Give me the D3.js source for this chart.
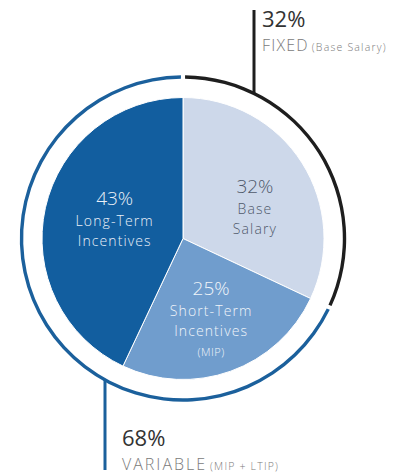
<!DOCTYPE html>
<html>
<head>
<meta charset="utf-8">
<script src="https://cdn.jsdelivr.net/npm/d3@7"></script>
<style>
  body { margin: 0; background: #fff; }
  svg { display: block; font-family: "Open Sans", "Noto Sans", sans-serif; }
</style>
</head>
<body>
<script>
// Pay mix data
var segments = ["Base Salary", "Short-Term Incentives", "Long-Term Incentives"];
var shares = [32, 25, 43];
var segmentLines = [["Base", "Salary"], ["Short-Term", "Incentives", "(MIP)"], ["Long-Term", "Incentives"]];

// Fixed vs variable groups (ring around the pie)
var groups = ["FIXED", "VARIABLE"];
var groupShares = [32, 68];
var groupNotes = ["(Base Salary)", "(MIP + LTIP)"];

var width = 404, height = 476;
var cx = 183, cy = 238.5, radius = 141, ringRadius = 161.5;

var fills = ["#cdd8ea", "#709dcd", "#125e9f"];
var textColors = ["#4f586a", "#f1f5fa", "#eaf0f8"];
var ringColors = ["#1e1e1e", "#1b609c"];
var labelRadius = [84, 86, 70];
var labelShift = [[1, -1], [-1, -24], [0, -18]];

var svg = d3.select("body").append("svg")
    .attr("width", width)
    .attr("height", height);

var g = svg.append("g")
    .attr("transform", "translate(" + cx + "," + cy + ")");

var pie = d3.pie().sort(null).value(function(d) { return d; });
var arc = d3.arc().innerRadius(0).outerRadius(radius);

var slices = pie(shares);

// Pie slices
g.selectAll(".slice")
    .data(slices)
    .enter().append("path")
    .attr("class", "slice")
    .attr("d", arc)
    .attr("fill", function(d, i) { return fills[i]; })
    .attr("stroke", "#fff")
    .attr("stroke-width", 1);

// Ring arcs for fixed / variable
var ringArc = d3.arc()
    .innerRadius(ringRadius - 1.7)
    .outerRadius(ringRadius + 1.7)
    .padAngle(0.018);

var ringSlices = pie(groupShares);

g.selectAll(".ring")
    .data(ringSlices)
    .enter().append("path")
    .attr("class", "ring")
    .attr("d", ringArc)
    .attr("fill", function(d, i) { return ringColors[i]; });

// Labels inside slices, one text per line
slices.forEach(function(d, i) {
    var c = d3.arc().innerRadius(labelRadius[i]).outerRadius(labelRadius[i]).centroid(d);
    var lines = segmentLines[i];
    var x = c[0] + labelShift[i][0];
    var y0 = c[1] + labelShift[i][1];
    g.append("text")
        .attr("x", x)
        .attr("y", y0)
        .attr("text-anchor", "middle")
        .attr("fill", textColors[i])
        .style("font-size", "19px")
        .style("font-weight", 300)
        .text(shares[i] + "%");
    lines.forEach(function(line, j) {
        var small = line.charAt(0) === "(";
        g.append("text")
            .attr("x", x)
            .attr("y", y0 + 21 + j * 20)
            .attr("text-anchor", "middle")
            .attr("fill", textColors[i])
            .style("font-size", small ? "11px" : "14px")
            .style("font-weight", 300)
            .style("letter-spacing", small ? "0.5px" : "1.1px")
            .text(line);
    });
});

// Callout lines from the ring
var calloutX = [254, 105];
var calloutEnd = [10, 470];
ringSlices.forEach(function(d, i) {
    var dx = calloutX[i] - cx;
    var dy = Math.sqrt(ringRadius * ringRadius - dx * dx);
    var yRing = i === 0 ? cy - dy : cy + dy;
    svg.append("line")
        .attr("x1", calloutX[i])
        .attr("x2", calloutX[i])
        .attr("y1", yRing)
        .attr("y2", calloutEnd[i])
        .attr("stroke", ringColors[i])
        .attr("stroke-width", 3);
});

// Callout texts
var calloutTextX = [262, 122];
var calloutTextY = [27, 446];
var nameSpacing = ["1.2px", "2px"];
groups.forEach(function(name, i) {
    svg.append("text")
        .attr("x", calloutTextX[i])
        .attr("y", calloutTextY[i])
        .attr("fill", "#333")
        .style("font-size", "22px")
        .text(groupShares[i] + "%");
    var t = svg.append("text")
        .attr("x", calloutTextX[i])
        .attr("y", calloutTextY[i] + 24)
        .attr("fill", "#7a7a7a")
        .style("font-weight", 300);
    t.append("tspan")
        .style("font-size", "16px")
        .style("letter-spacing", nameSpacing[i])
        .text(name);
    t.append("tspan")
        .attr("dx", 3)
        .style("font-size", "10.5px")
        .style("letter-spacing", "1.2px")
        .text(groupNotes[i]);
});
</script>
</body>
</html>
